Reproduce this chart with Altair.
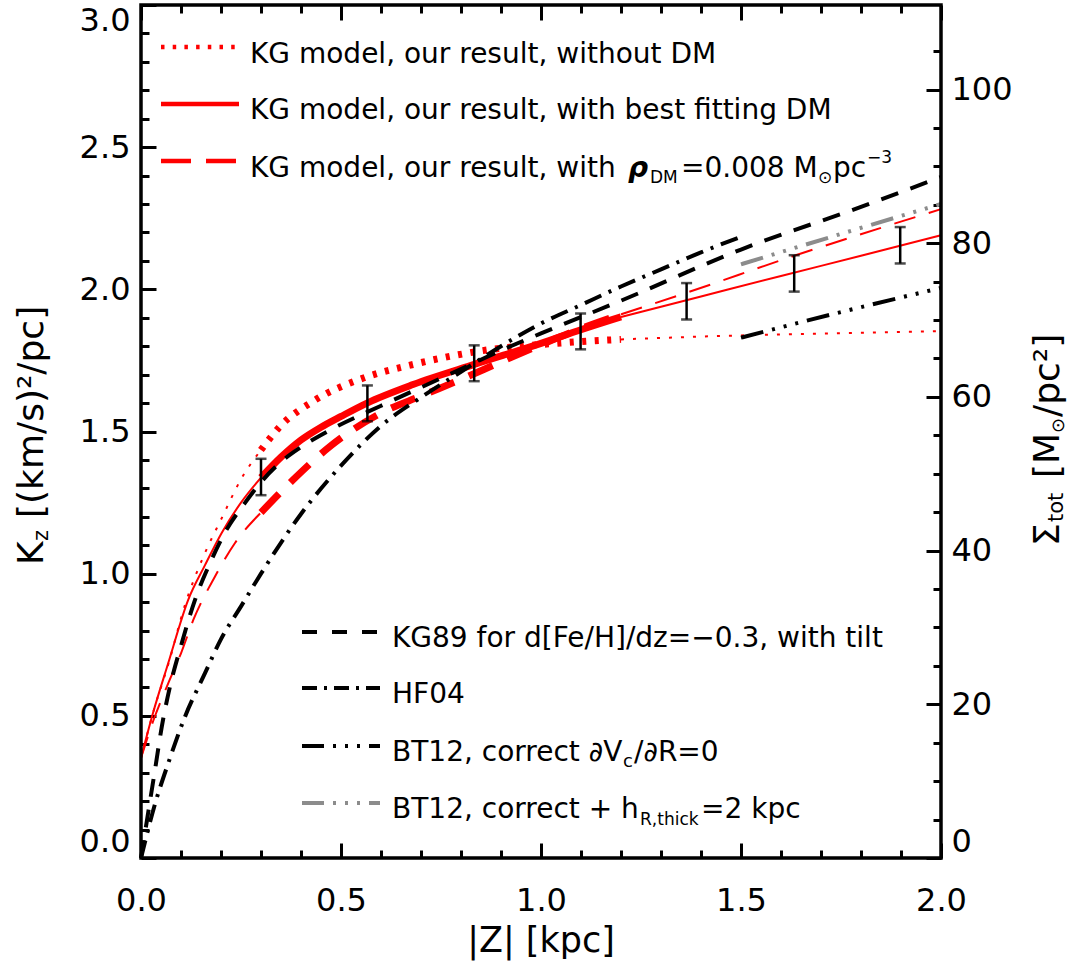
import altair as alt
import pandas as pd

FONT = "DejaVu Sans"

# ---------------- data ----------------
obs_z = [0.300, 0.566, 0.833, 1.099, 1.364, 1.633, 1.898]
obs_k = [1.340, 1.599, 1.740, 1.852, 1.958, 2.056, 2.155]
obs_err = [0.064, 0.063, 0.063, 0.063, 0.064, 0.064, 0.064]

red_nodm_z = [0.0, 0.03, 0.07, 0.11, 0.16, 0.20, 0.252, 0.30, 0.3475, 0.431, 0.556, 0.681, 0.8475, 1.056, 1.20, 1.50, 1.75, 2.0]
red_nodm_k = [0.352, 0.51, 0.69, 0.89, 1.073, 1.19, 1.337, 1.435, 1.518, 1.607, 1.688, 1.736, 1.783, 1.812, 1.824, 1.838, 1.846, 1.853]

red_best_z = [0.0, 0.03, 0.068, 0.118, 0.16, 0.202, 0.25, 0.30, 0.35, 0.40, 0.45, 0.50, 0.565, 0.68, 0.833, 1.0, 1.1, 1.2, 1.4, 1.6, 1.8, 2.0]
red_best_k = [0.352, 0.51, 0.685, 0.908, 1.03, 1.144, 1.25, 1.338, 1.41, 1.47, 1.515, 1.553, 1.60, 1.665, 1.736, 1.81, 1.858, 1.903, 1.975, 2.047, 2.118, 2.19]

red_rho_z = [0.0, 0.03, 0.068, 0.10, 0.131, 0.185, 0.235, 0.30, 0.381, 0.473, 0.60, 0.70, 0.80, 0.90, 1.0, 1.1, 1.2, 1.364, 1.631, 2.0]
red_rho_k = [0.352, 0.48, 0.614, 0.72, 0.838, 0.99, 1.108, 1.215, 1.331, 1.448, 1.565, 1.625, 1.683, 1.745, 1.805, 1.862, 1.912, 1.988, 2.117, 2.282]

kg89_z = [0.0, 0.018, 0.035, 0.052, 0.0725, 0.102, 0.135, 0.1725, 0.214, 0.26, 0.302, 0.3475, 0.40, 0.4725, 0.5975, 0.70, 0.80, 0.90, 1.0, 1.2, 1.5, 1.8, 2.0]
kg89_k = [0.0, 0.16, 0.31, 0.462, 0.603, 0.756, 0.908, 1.037, 1.155, 1.249, 1.325, 1.39, 1.445, 1.505, 1.589, 1.655, 1.72, 1.785, 1.845, 1.96, 2.14, 2.29, 2.395]

hf04_z = [0.0, 0.035, 0.068, 0.11, 0.16, 0.20, 0.25, 0.30, 0.40, 0.50, 0.60, 0.70, 0.80, 0.90, 1.0, 1.1, 1.2, 1.3, 1.4, 1.5]
hf04_k = [0.0, 0.19, 0.333, 0.497, 0.65, 0.77, 0.885, 1.0, 1.21, 1.38, 1.52, 1.62, 1.71, 1.80, 1.88, 1.945, 2.01, 2.07, 2.13, 2.185]

bt12_z = [1.5, 1.75, 2.0]
bt12_k = [1.83, 1.92, 2.005]
bt12h_z = [1.5, 1.75, 2.0]
bt12h_k = [2.088, 2.195, 2.30]

# ticks
x_major = [0.0, 0.5, 1.0, 1.5, 2.0]
x_minor = [0.1, 0.2, 0.3, 0.4, 0.6, 0.7, 0.8, 0.9, 1.1, 1.2, 1.3, 1.4, 1.6, 1.7, 1.8, 1.9]
y_major = [0.0, 0.5, 1.0, 1.5, 2.0, 2.5, 3.0]
y_minor = [0.1, 0.2, 0.3, 0.4, 0.6, 0.7, 0.8, 0.9, 1.1, 1.2, 1.3, 1.4, 1.6, 1.7, 1.8, 1.9,
           2.1, 2.2, 2.3, 2.4, 2.6, 2.7, 2.8, 2.9]
sigma_major = [0, 20, 40, 60, 80, 100]
sigma_minor = [5, 10, 15, 25, 30, 35, 45, 50, 55, 65, 70, 75, 85, 90, 95, 105]
SIGMA_PER_K = 37.0  # 1/(2 pi G) in Msun/pc^2 per (km/s)^2/pc

legend_top = ["KG model, our result, without DM",
              "KG model, our result, with best fitting DM",
              "KG model, our result, with"]
legend_bottom = ["KG89 for d[Fe/H]/dz=\u22120.3, with tilt", "HF04",
                 "BT12, correct \u2202V", "BT12, correct + h"]

# ---------------- helpers ----------------
xs = alt.Scale(domain=[0, 2], nice=False, zero=False)
ys = alt.Scale(domain=[0, 3], nice=False, zero=False)
dummy = pd.DataFrame({"d": [0]})


def split(z, k):
    rows = []
    for zi, ki in zip(z, k):
        if zi <= 0.3:
            rows.append({"z": zi, "k": ki, "seg": "a", "w": "thin"})
        if 0.3 <= zi <= 1.2:
            rows.append({"z": zi, "k": ki, "seg": "b", "w": "thick"})
        if zi >= 1.2:
            rows.append({"z": zi, "k": ki, "seg": "c", "w": "thin"})
    return pd.DataFrame(rows)


def line(df, color, width, dash=None):
    kw = dict(color=color, strokeWidth=width, interpolate="monotone")
    if dash:
        kw["strokeDash"] = dash
    enc = dict(x=alt.X("z:Q", scale=xs, axis=None), y=alt.Y("k:Q", scale=ys, axis=None))
    if "seg" in df.columns:
        enc["detail"] = "seg:N"
    return alt.Chart(df).mark_line(**kw).encode(**enc)


def txt(s, x, y, size=28, angle=0, weight="normal", style="normal", align="left"):
    kw = dict(text=s, font=FONT, fontSize=size, fontWeight=weight, fontStyle=style,
              align=align, baseline="alphabetic", color="black")
    if angle:
        kw["angle"] = angle
    return alt.Chart(dummy).mark_text(**kw).encode(x=alt.value(x), y=alt.value(y))


def sample(x1, x2, y, color, width, dash=None):
    kw = dict(color=color, strokeWidth=width)
    if dash:
        kw["strokeDash"] = dash
    return alt.Chart(dummy).mark_rule(**kw).encode(x=alt.value(x1), x2=alt.value(x2), y=alt.value(y))


def axis(orient, values, length, labels=False, **kw):
    opts = dict(orient=orient, values=values, offset=-length, tickSize=length, tickWidth=3,
                tickColor="black", domain=False, grid=False, labels=labels, title=None)
    if labels:
        opts.update(labelFont=FONT, labelFontSize=32, labelColor="black",
                    labelFlush=False, labelOverlap=False)
    opts.update(kw)
    return alt.Axis(**opts)


# ---------------- curves ----------------
layers = []
nodm = split(red_nodm_z, red_nodm_k)
best = split(red_best_z, red_best_k)
rho = split(red_rho_z, red_rho_k)

layers.append(line(nodm[nodm.w == "thin"], "#ff0000", 2, [3, 9]))
layers.append(line(nodm[nodm.w == "thick"], "#ff0000", 7, [4, 8.5]))
layers.append(line(best[best.w == "thin"], "#ff0000", 2))
layers.append(line(best[best.w == "thick"], "#ff0000", 7))
layers.append(line(rho[rho.w == "thin"], "#ff0000", 2, [22, 14]))
layers.append(line(rho[rho.w == "thick"], "#ff0000", 7, [26, 16]))

layers.append(line(pd.DataFrame({"z": kg89_z, "k": kg89_k}), "black", 4, [18, 13]))
layers.append(line(pd.DataFrame({"z": hf04_z, "k": hf04_k}), "black", 4, [18, 8, 3, 8]))
layers.append(line(pd.DataFrame({"z": bt12_z, "k": bt12_k}), "black", 4, [23, 9, 3, 9, 3, 9, 3, 9]))
layers.append(line(pd.DataFrame({"z": bt12h_z, "k": bt12h_k}), "#8c8c8c", 4, [23, 9, 3, 9, 3, 9, 3, 9]))

# ---------------- error bars ----------------
obs = pd.DataFrame({"z": obs_z, "k": obs_k, "err": obs_err})
eb = alt.Chart(obs).transform_calculate(lo="datum.k - datum.err", hi="datum.k + datum.err")
layers.append(eb.mark_rule(color="black", strokeWidth=2.5).encode(
    x=alt.X("z:Q", scale=xs, axis=None), y=alt.Y("lo:Q", scale=ys, axis=None), y2="hi:Q"))
layers.append(eb.mark_tick(orient="horizontal", color="black", thickness=2.5, size=11).encode(
    x=alt.X("z:Q", scale=xs, axis=None), y=alt.Y("lo:Q", scale=ys, axis=None)))
layers.append(eb.mark_tick(orient="horizontal", color="black", thickness=2.5, size=11).encode(
    x=alt.X("z:Q", scale=xs, axis=None), y=alt.Y("hi:Q", scale=ys, axis=None)))

# ---------------- axes (carried by invisible points) ----------------
sig_major_k = [s / SIGMA_PER_K for s in sigma_major]
sig_minor_k = [s / SIGMA_PER_K for s in sigma_minor]
lab_expr = "format(datum.value * %s, '.0f')" % SIGMA_PER_K

carrier = alt.Chart(obs).mark_point(opacity=0)
layers.append(carrier.encode(
    x=alt.X("z:Q", scale=xs, axis=axis("bottom", x_major, 15, True, format=".1f", labelPadding=27)),
    y=alt.Y("k:Q", scale=ys, axis=axis("left", y_major, 15, True, format=".1f", labelPadding=11,
                                        labelFlush=True))))
layers.append(carrier.encode(
    x=alt.X("z:Q", scale=xs, axis=axis("bottom", x_minor, 8)),
    y=alt.Y("k:Q", scale=ys, axis=axis("left", y_minor, 8))))
layers.append(carrier.encode(
    x=alt.X("z:Q", scale=xs, axis=axis("top", x_major, 15)),
    y=alt.Y("k:Q", scale=ys, axis=axis("right", sig_major_k, 15, True, labelExpr=lab_expr,
                                        labelPadding=10, labelFlush=True))))
layers.append(carrier.encode(
    x=alt.X("z:Q", scale=xs, axis=axis("top", x_minor, 8)),
    y=alt.Y("k:Q", scale=ys, axis=axis("right", sig_minor_k, 8))))

# plot frame
layers.append(alt.Chart(dummy).mark_rect(fillOpacity=0, stroke="black", strokeWidth=3.5).encode(
    x=alt.value(0), x2=alt.value(800), y=alt.value(0), y2=alt.value(853)))

# ---------------- legends ----------------
# top legend
layers.append(sample(20, 98, 42, "#ff0000", 4.5, [3.5, 8.2]))
layers.append(sample(20, 98, 99, "#ff0000", 4.5))
layers.append(sample(20, 98, 156, "#ff0000", 4.5, [30, 15]))
layers.append(txt(legend_top[0], 109, 58))
layers.append(txt(legend_top[1], 109, 114))
layers.append(txt(legend_top[2], 109, 172))
layers.append(txt("\u03c1", 487, 172, weight="bold", style="italic"))
layers.append(txt("DM", 509, 178, size=17))
layers.append(txt("=0.008 M", 540, 172))
layers.append(txt("\u2299", 677, 178, size=17))
layers.append(txt("pc", 692, 172))
layers.append(txt("\u22123", 726, 158, size=17))

# bottom legend
dash_bt = [22, 9, 3, 9, 3, 9, 3, 9]
layers.append(sample(161, 239, 627, "black", 4, [15, 15]))
layers.append(sample(161, 239, 683, "black", 4, [15, 7, 3, 7]))
layers.append(sample(161, 239, 741, "black", 4, dash_bt))
layers.append(sample(161, 239, 798, "#8c8c8c", 4, dash_bt))
layers.append(txt(legend_bottom[0], 251, 642))
layers.append(txt(legend_bottom[1], 251, 698))
layers.append(txt(legend_bottom[2], 251, 756))
layers.append(txt("c", 482, 762, size=18))
layers.append(txt("/\u2202R=0", 493, 756))
layers.append(txt(legend_bottom[3], 251, 813))
layers.append(txt("R,thick", 499, 820, size=17))
layers.append(txt("=2 kpc", 560, 813))

# ---------------- axis titles ----------------
layers.append(txt("|Z| [kpc]", 400, 947, size=35, align="center"))
# left title (rotated)
layers.append(txt("K", -98, 560, size=36, angle=270))
layers.append(txt("z", -93, 536, size=21, angle=270))
layers.append(txt("[(km/s)\u00b2/pc]", -98, 513, size=36, angle=270))
# right title (rotated)
layers.append(txt("\u03a3", 918, 541, size=36, angle=270))
layers.append(txt("tot", 922, 517, size=21, angle=270))
layers.append(txt("[M", 918, 473, size=36, angle=270))
layers.append(txt("\u2299", 923, 428, size=18, angle=270))
layers.append(txt("/pc\u00b2]", 918, 412, size=36, angle=270))

chart = alt.layer(*layers).resolve_axis(x="independent", y="independent").properties(
    width=800, height=853,
    autosize=alt.AutoSizeParams(type="none"),
    padding={"left": 141, "top": 5, "right": 131, "bottom": 111},
).configure_view(stroke=None).configure(background="white")

chart.save("out.html", embed_options={"renderer": "svg", "actions": False})
